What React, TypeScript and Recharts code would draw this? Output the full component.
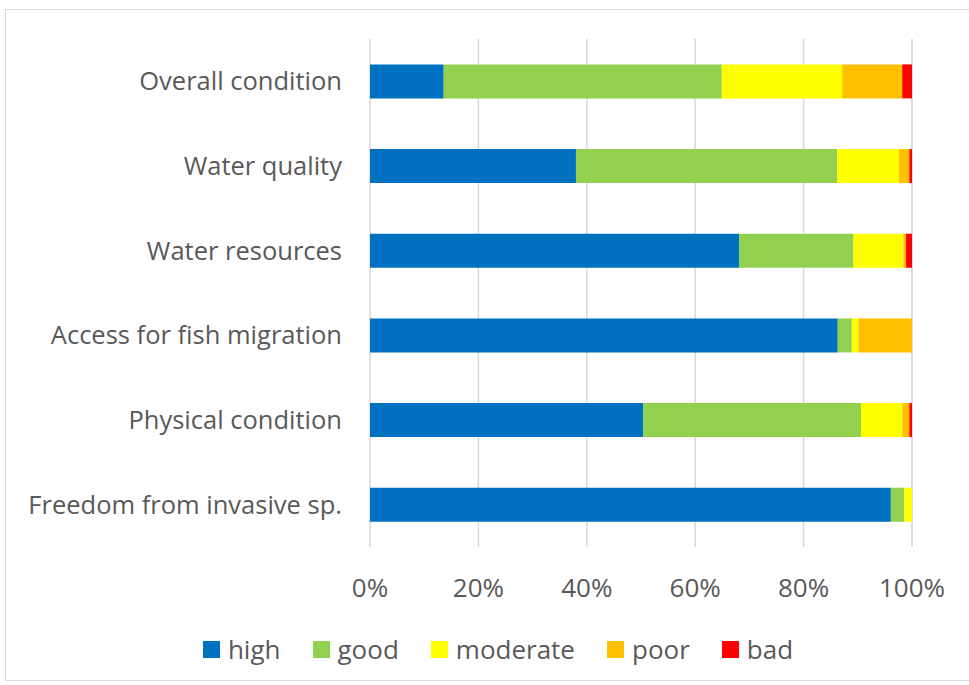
import {
  BarChart,
  Bar,
  XAxis,
  YAxis,
  CartesianGrid,
  Legend,
} from 'recharts';

const categories = [
  'Overall condition',
  'Water quality',
  'Water resources',
  'Access for fish migration',
  'Physical condition',
  'Freedom from invasive sp.',
];

const high = [13.6, 38.0, 68.1, 86.3, 50.4, 96.1];
const good = [51.3, 48.2, 21.1, 2.6, 40.2, 2.5];
const moderate = [22.2, 11.4, 9.2, 1.2, 7.6, 1.4];
const poor = [11.1, 1.9, 0.5, 9.9, 1.3, 0];
const bad = [1.8, 0.5, 1.1, 0, 0.5, 0];

const xTicks = [0, 20, 40, 60, 80, 100];

const seriesNames = ['high', 'good', 'moderate', 'poor', 'bad'];
const seriesColors = ['#0070C0', '#92D050', '#FFFF00', '#FFC000', '#FF0000'];

const data = categories.map((name, i) => ({
  name,
  high: high[i],
  good: good[i],
  moderate: moderate[i],
  poor: poor[i],
  bad: bad[i],
}));

const FONT = '"Open Sans", "Noto Sans", sans-serif';
const TEXT = '#595959';

function LegendContent() {
  return (
    <div
      style={{
        display: 'flex',
        justifyContent: 'center',
        alignItems: 'center',
        fontFamily: FONT,
        fontSize: 26,
        color: TEXT,
        paddingLeft: 84,
      }}
    >
      {seriesNames.map((n, i) => (
        <div key={n} style={{ display: 'flex', alignItems: 'center', marginRight: i < 4 ? 32 : 0 }}>
          <span
            style={{
              display: 'inline-block',
              width: 17,
              height: 17,
              background: seriesColors[i],
              marginRight: 8,
            }}
          />
          <span>{n}</span>
        </div>
      ))}
    </div>
  );
}

export default function App() {
  return (
    <div style={{ position: 'absolute', left: 0, top: 0, width: 969, height: 685, background: '#fff' }}>
      <div
        style={{
          position: 'absolute',
          left: 5,
          top: 9,
          width: 970,
          height: 670,
          border: '1px solid #d9d9d9',
        }}
      />
      <BarChart
        width={969}
        height={685}
        data={data}
        layout="vertical"
        margin={{ top: 39, right: 57, left: 0, bottom: 0 }}
        barCategoryGap="30%"
      >
        <CartesianGrid horizontal={false} stroke="#d9d9d9" strokeWidth={1.5} />
        <XAxis
          type="number"
          domain={[0, 100]}
          ticks={xTicks}
          tickFormatter={(v: number) => `${v}%`}
          tick={{ fill: TEXT, fontSize: 26, fontFamily: FONT }}
          axisLine={false}
          tickLine={false}
          tickMargin={26}
          height={84}
        />
        <YAxis
          type="category"
          dataKey="name"
          width={370}
          tick={{ fill: TEXT, fontSize: 25.5, fontFamily: FONT }}
          axisLine={false}
          tickLine={false}
          tickMargin={22}
          interval={0}
        />
        <Legend verticalAlign="bottom" height={54} content={<LegendContent />} />
        {seriesNames.map((n, i) => (
          <Bar key={n} dataKey={n} stackId="a" fill={seriesColors[i]} isAnimationActive={false} />
        ))}
      </BarChart>
    </div>
  );
}
